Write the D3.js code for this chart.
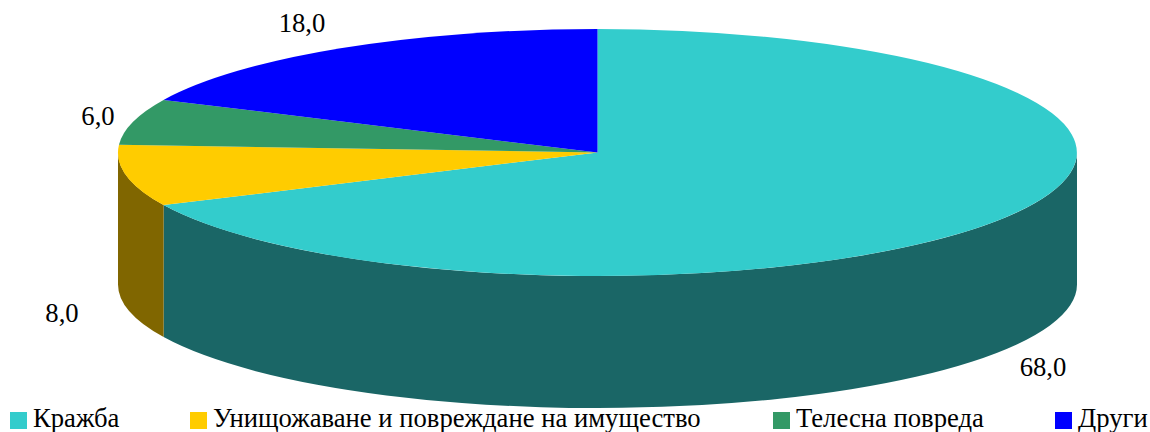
<!DOCTYPE html>
<html>
<head>
<meta charset="utf-8">
<script src="https://cdn.jsdelivr.net/npm/d3@7"></script>
<style>
  html, body { margin: 0; padding: 0; background: #fff; }
  text { font-family: "Liberation Serif", serif; fill: #000; }
</style>
</head>
<body>
<div id="chart"></div>
<script>
var categories = ["Кражба", "Унищожаване и повреждане на имущество", "Телесна повреда", "Други"];
var values = [68.0, 8.0, 6.0, 18.0];
var topColors = ["#33cccc", "#ffcc00", "#339966", "#0000ff"];
var sideColors = ["#1a6666", "#806600", "#1a4d33", "#000080"];

var width = 1150, height = 432;
var cx = 597.5, cy = 152.5, rx = 479.5, ry = 123.5, depth = 132;

var labelPos = [[1043, 367], [62, 313], [98, 116], [302, 23]];
var legendX = [10, 190, 773, 1055];

var svg = d3.select("#chart").append("svg")
    .attr("width", width)
    .attr("height", height);

var slices = d3.pie().sort(null)(values);

// point on the rim of the ellipse, angle clockwise from the top
function rim(a, dy) {
    return [cx + rx * Math.sin(a), cy - ry * Math.cos(a) + (dy || 0)];
}

// side wall, only the front half (90 to 270 deg) can be seen
function wall(d) {
    var a0 = Math.max(d.startAngle, Math.PI / 2),
        a1 = Math.min(d.endAngle, Math.PI * 1.5);
    if (a0 >= a1) return null;
    var p0 = rim(a0), p1 = rim(a1), p2 = rim(a1, depth), p3 = rim(a0, depth);
    return "M" + p0 + "A" + rx + "," + ry + " 0 0 1 " + p1 +
        "L" + p2 + "A" + rx + "," + ry + " 0 0 0 " + p3 + "Z";
}

svg.append("g").selectAll("path")
    .data(slices)
    .enter().append("path")
    .attr("d", wall)
    .attr("fill", function(d, i) { return sideColors[i]; });

// top face is a unit pie squashed into the ellipse
var arc = d3.arc().innerRadius(0).outerRadius(1);

svg.append("g")
    .attr("transform", "translate(" + cx + "," + cy + ") scale(" + rx + "," + ry + ")")
    .selectAll("path")
    .data(slices)
    .enter().append("path")
    .attr("d", arc)
    .attr("fill", function(d, i) { return topColors[i]; });

// value labels, comma decimals
svg.append("g").selectAll("text")
    .data(values)
    .enter().append("text")
    .attr("x", function(d, i) { return labelPos[i][0]; })
    .attr("y", function(d, i) { return labelPos[i][1]; })
    .attr("dy", "0.35em")
    .attr("text-anchor", "middle")
    .style("font-size", "26.67px")
    .text(function(d) { return d.toFixed(1).replace(".", ","); });

var legend = svg.append("g").selectAll("g")
    .data(categories)
    .enter().append("g")
    .attr("transform", function(d, i) { return "translate(" + legendX[i] + ",412)"; });

legend.append("rect")
    .attr("width", 17)
    .attr("height", 17)
    .attr("fill", function(d, i) { return topColors[i]; });

legend.append("text")
    .attr("x", 23)
    .attr("y", 15)
    .style("font-size", "26.67px")
    .text(function(d) { return d; });
</script>
</body>
</html>
